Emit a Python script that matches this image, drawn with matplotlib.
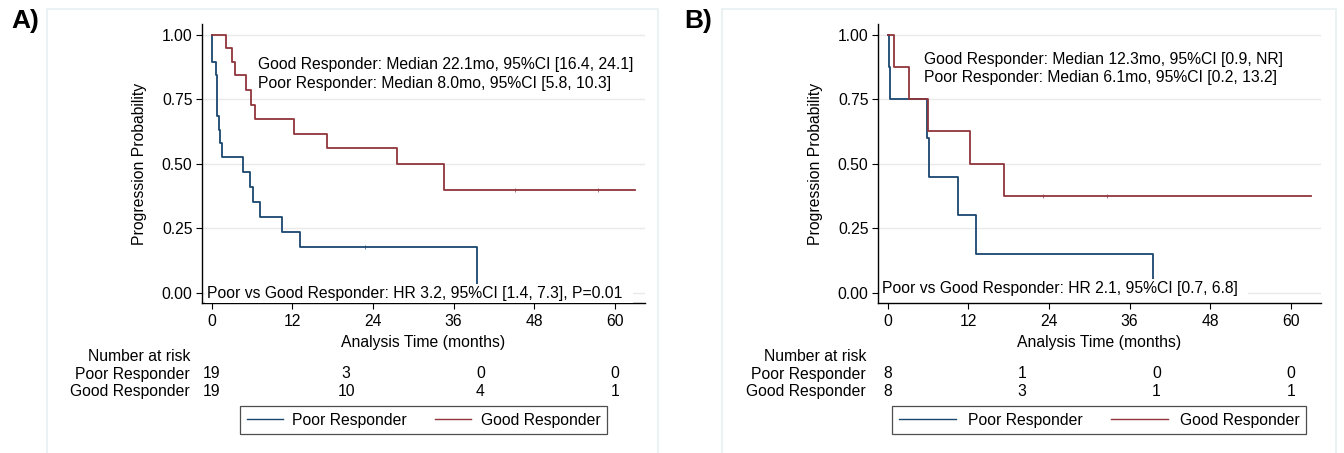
import matplotlib
matplotlib.use("Agg")
import matplotlib.pyplot as plt
import matplotlib.transforms as mtransforms
from matplotlib.lines import Line2D
from matplotlib.patches import Rectangle

FS = 11.3
plt.rcParams["font.family"] = ["Liberation Sans", "DejaVu Sans"]
plt.rcParams["font.size"] = FS

# ---- data ----
# panel A
a_poor_t = [0, 0.1, 0.65, 0.85, 1.05, 1.3, 1.5, 4.6, 5.7, 6.1, 7.2, 10.4, 13.2, 39.5]
a_poor_s = [1.0, 0.895, 0.842, 0.684, 0.632, 0.579, 0.526, 0.468, 0.410, 0.352, 0.293, 0.234, 0.176, 0.0]
a_poor_end = 39.5
a_good_t = [0, 2.2, 3.0, 3.4, 5.1, 5.85, 6.5, 12.2, 17.2, 27.6, 34.5]
a_good_s = [1.0, 0.947, 0.895, 0.842, 0.786, 0.729, 0.672, 0.616, 0.560, 0.499, 0.399]
a_good_end = 63.0
a_poor_cens = [22.8]
a_good_cens = [45.1, 57.5]

# panel B
b_poor_t = [0, 0.2, 0.35, 5.8, 6.1, 10.5, 13.2, 39.5]
b_poor_s = [1.0, 0.875, 0.75, 0.60, 0.45, 0.30, 0.15, 0.0]
b_poor_end = 39.5
b_good_t = [0, 0.94, 3.1, 6.0, 12.3, 17.3]
b_good_s = [1.0, 0.875, 0.75, 0.625, 0.50, 0.375]
b_good_end = 63.0
b_poor_cens = []
b_good_cens = [23.1, 32.6]

risk_times = [0, 20, 40, 60]
a_risk_poor = [19, 3, 0, 0]
a_risk_good = [19, 10, 4, 1]
b_risk_poor = [8, 1, 0, 0]
b_risk_good = [8, 3, 1, 1]

a_median_text = ["Good Responder: Median 22.1mo, 95%CI [16.4, 24.1]",
                 "Poor Responder: Median 8.0mo, 95%CI [5.8, 10.3]"]
b_median_text = ["Good Responder: Median 12.3mo, 95%CI [0.9, NR]",
                 "Poor Responder: Median 6.1mo, 95%CI [0.2, 13.2]"]
a_hr_text = "Poor vs Good Responder: HR 3.2, 95%CI [1.4, 7.3], P=0.01"
b_hr_text = "Poor vs Good Responder: HR 2.1, 95%CI [0.7, 6.8]"

POOR_C = "#1a476f"
GOOD_C = "#90353b"
FRAME_C = "#e8f0f2"

W, H = 1344, 453
fig = plt.figure(figsize=(W / 100, H / 100), dpi=100)


def px_axes(left, right, top, bottom):
    return fig.add_axes([left / W, 1 - bottom / H, (right - left) / W, (bottom - top) / H])


def step_xy(t, s, end):
    return list(t) + [end], list(s) + [s[-1]]


def panel(ax, poor, good, cens, risk_p, risk_g, med_txt, med_xy, hr_txt, hr_xy,
          handlelen, hpad):
    ax.set_xlim(-1.5, 64.5)
    ax.set_ylim(-0.04, 1.04)
    for sp in ("top", "right"):
        ax.spines[sp].set_visible(False)
    ax.spines["left"].set_linewidth(1.0)
    ax.spines["bottom"].set_linewidth(1.0)
    ax.set_xticks([0, 12, 24, 36, 48, 60])
    ax.set_yticks([0, 0.25, 0.5, 0.75, 1.0])
    ax.set_yticklabels([f"{v:.2f}" for v in [0, 0.25, 0.5, 0.75, 1.0]])
    ax.tick_params(axis="y", length=4.5, width=0.8, pad=2)
    ax.tick_params(axis="x", length=4, width=0.8, pad=4)
    ax.grid(axis="y", color="#eaeaea", lw=1.0)
    ax.set_axisbelow(True)

    # poor: censor marks sit on the last non-zero level; good: on the last level
    for (t, s, end), col, cs, lvl in [(poor, POOR_C, cens[0], poor[1][-2]),
                                      (good, GOOD_C, cens[1], good[1][-1])]:
        x, y = step_xy(t, s, end)
        ax.step(x, y, where="post", color=col, lw=1.3, zorder=3)
        if cs:
            ax.plot(cs, [lvl] * len(cs), ls="none", marker="|", ms=3, mew=0.6,
                    color=col, alpha=0.8, zorder=3)

    ax.text(med_xy[0], med_xy[1][0], med_txt[0], va="center", ha="left")
    ax.text(med_xy[0], med_xy[1][1], med_txt[1], va="center", ha="left")
    ax.text(hr_xy[0], hr_xy[1], hr_txt + "  ", va="baseline", ha="left",
            zorder=5, bbox=dict(facecolor="white", edgecolor="none", pad=1.5))

    ax.set_ylabel("Progression Probability")
    ax.yaxis.set_label_coords(-0.122, 0.5)
    ax.set_xlabel("Analysis Time (months)")
    ax.xaxis.set_label_coords(0.5, -0.142)
    ax.xaxis.label.set_va("center")

    tr = mtransforms.blended_transform_factory(ax.transData, fig.transFigure)
    rows = [("Number at risk", None, 356.7), ("Poor Responder", risk_p, 374.0),
            ("Good Responder", risk_g, 391.7)]
    for lab, vals, ypx in rows:
        yf = 1 - ypx / H
        ax.text(-3.2, yf, lab, transform=tr, ha="right", va="center", clip_on=False)
        if vals is not None:
            for tt, v in zip(risk_times, vals):
                ax.text(tt, yf, str(v), transform=tr, ha="center", va="center",
                        clip_on=False)

    handles = [Line2D([], [], color=POOR_C, lw=1.0), Line2D([], [], color=GOOD_C, lw=1.0)]
    pos = ax.get_position()
    leg = ax.legend(handles, ["Poor Responder", "Good Responder"], ncol=2,
                    loc="center", bbox_to_anchor=(pos.x0 + pos.width / 2, 1 - 420 / H),
                    bbox_transform=fig.transFigure, frameon=True, fancybox=False,
                    edgecolor="#222222", fontsize=FS, handlelength=handlelen,
                    handletextpad=hpad, columnspacing=1.8, borderpad=0.42,
                    borderaxespad=0)
    leg.get_frame().set_linewidth(0.9)


# panel frames
for x0, x1 in [(46.7, 658.3), (722.3, 1335.7)]:
    fig.patches.append(Rectangle((x0 / W, -0.1), (x1 - x0) / W, 1 - 9.3 / H + 0.1,
                                 transform=fig.transFigure, fill=False,
                                 edgecolor=FRAME_C, lw=1.2))

axA = px_axes(201.6, 645.2, 24.4, 303.0)
panel(axA, (a_poor_t, a_poor_s, a_poor_end), (a_good_t, a_good_s, a_good_end),
      (a_poor_cens, a_good_cens), a_risk_poor, a_risk_good,
      a_median_text, (6.85, (0.883, 0.812)), a_hr_text, (-0.75, -0.022), 2.3, 0.6)

axB = px_axes(877.6, 1321.2, 24.4, 303.0)
panel(axB, (b_poor_t, b_poor_s, b_poor_end), (b_good_t, b_good_s, b_good_end),
      (b_poor_cens, b_good_cens), b_risk_poor, b_risk_good,
      b_median_text, (5.45, (0.905, 0.835)), b_hr_text, (-0.9, 0.0), 3.65, 0.75)

fig.text(25 / W, 1 - 21 / H, "A)", fontsize=19, fontweight="bold", ha="center", va="center")
fig.text(698 / W, 1 - 21 / H, "B)", fontsize=19, fontweight="bold", ha="center", va="center")

fig.savefig("out.png", dpi=100, facecolor="white")
